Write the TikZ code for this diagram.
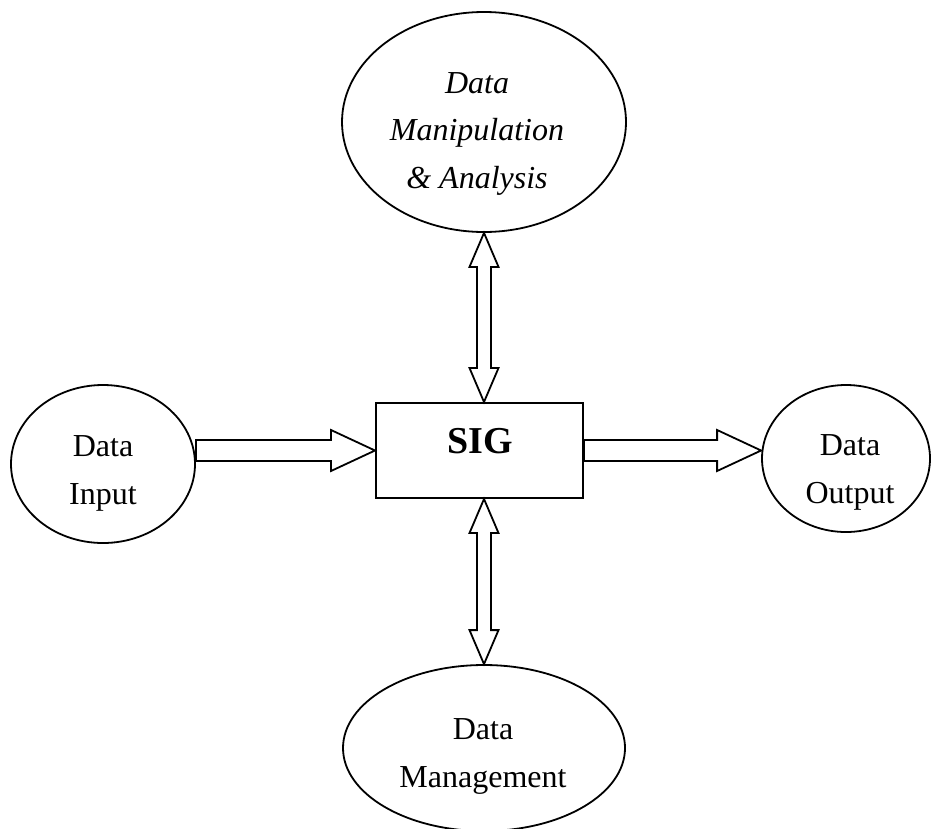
\documentclass[tikz,border=0pt]{standalone}
\usepackage{fontspec}
\setmainfont{Liberation Serif}
\usetikzlibrary{shapes.geometric,calc}
\tikzset{
  ell/.style={draw, ellipse, line width=1.8pt, inner sep=0pt},
  box/.style={draw, rectangle, line width=2pt, inner sep=0pt},
  txt/.style={inner sep=0pt, align=center, font=\fontsize{32}{47.5}\selectfont},
  fatline/.style={line width=1.8pt, line join=miter},
  hfat/.style={to path={let \p1=(\tikztostart), \p2=(\tikztotarget) in
    (\x1,\y1+10.5pt) -- (\x2-44pt,\y1+10.5pt) -- (\x2-44pt,\y1+20.5pt) -- (\x2,\y1)
    -- (\x2-44pt,\y1-20.5pt) -- (\x2-44pt,\y1-10.5pt) -- (\x1,\y1-10.5pt) -- cycle}},
  vfat/.style={to path={let \p1=(\tikztostart), \p2=(\tikztotarget) in
    (\x1,\y1) -- (\x1+14.5pt,\y1-34pt) -- (\x1+7pt,\y1-34pt) -- (\x1+7pt,\y2+34pt)
    -- (\x1+14.5pt,\y2+34pt) -- (\x1,\y2) -- (\x1-14.5pt,\y2+34pt) -- (\x1-7pt,\y2+34pt)
    -- (\x1-7pt,\y1-34pt) -- (\x1-14.5pt,\y1-34pt) -- cycle}}
}
\begin{document}
\begin{tikzpicture}[x=1pt,y=-1pt]
\useasboundingbox (0,0) rectangle (933,828);
\node[ell, minimum width=284pt, minimum height=220pt] (dma) at (484,122) {};
\node[box, minimum width=207pt, minimum height=95pt] (sig) at (479.5,450.5) {};
\node[ell, minimum width=184pt, minimum height=158pt] (inE) at (103,464) {};
\node[ell, minimum width=168pt, minimum height=147pt] (outE) at (846,458.5) {};
\node[ell, minimum width=282pt, minimum height=166pt] (dm) at (484,748) {};

\node[txt, font=\fontsize{32}{47.5}\selectfont\itshape] (dmaT) at (477,133.6) {Data\\Manipulation\\\& Analysis};
\node[inner sep=0pt, font=\fontsize{38}{40}\selectfont\bfseries] (sigT) at (480,441) {SIG};
\node[txt] (inT) at (103,473.6) {Data\\Input};
\node[txt] (outT) at (850,472.6) {Data\\Output};
\node[txt] (dmT) at (483,756.6) {Data\\Management};

\draw[fatline] (inE.east |- sig.west) to[hfat] (sig.west);
\draw[fatline] (sig.east) to[hfat] (outE.west |- sig.east);
\draw[fatline] (dma.south) to[vfat] (dma.south |- sig.north);
\draw[fatline] (dm.north |- sig.south) to[vfat] (dm.north);
\end{tikzpicture}
\end{document}
